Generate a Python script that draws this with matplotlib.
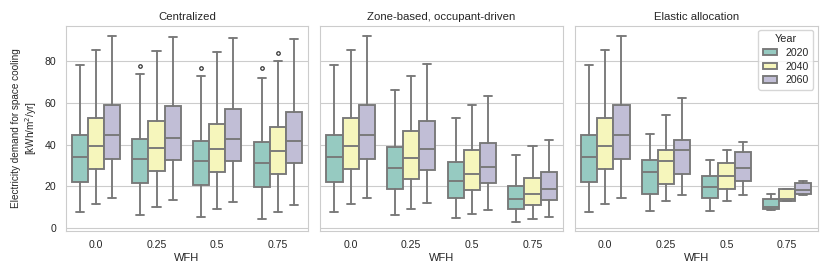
import matplotlib
matplotlib.use("Agg")
import matplotlib.pyplot as plt
from matplotlib.patches import Patch
import numpy as np
import seaborn as sns

wfh_levels = ["0.0", "0.25", "0.5", "0.75"]
years = ["2020", "2040", "2060"]
strategies = ["Centralized", "Zone-based, occupant-driven", "Elastic allocation"]

# (lower whisker, Q1, median, Q3, upper whisker) for each WFH level
centralized_2020 = [(7.5, 22.1, 34.0, 44.7, 78.1), (6.3, 21.3, 33.0, 42.8, 74.1),
                    (5.1, 20.5, 32.2, 41.7, 72.9), (4.0, 19.6, 31.3, 41.2, 72.0)]
centralized_2040 = [(11.2, 28.1, 39.4, 52.9, 85.5), (9.9, 27.4, 38.5, 51.3, 85.1),
                    (9.0, 26.8, 37.7, 49.7, 84.6), (7.5, 26.0, 36.9, 48.3, 80.2)]
centralized_2060 = [(14.4, 33.0, 44.4, 59.2, 92.0), (13.5, 32.5, 43.3, 58.4, 91.7),
                    (12.3, 32.1, 42.5, 57.1, 91.4), (11.1, 31.3, 41.7, 55.5, 90.7)]

zone_2020 = [(7.5, 22.1, 34.0, 44.7, 78.1), (6.1, 18.6, 28.7, 38.6, 66.2),
             (4.5, 14.3, 22.3, 31.4, 52.9), (2.6, 8.8, 13.6, 20.2, 34.8)]
zone_2040 = [(11.2, 28.1, 39.4, 52.9, 85.5), (9.1, 23.6, 33.3, 46.3, 72.8),
             (6.6, 18.1, 26.0, 37.4, 58.8), (4.0, 11.1, 16.2, 23.9, 39.1)]
zone_2060 = [(14.4, 33.0, 44.4, 59.2, 92.0), (11.7, 27.7, 37.7, 51.1, 78.9),
             (8.7, 21.3, 29.3, 40.7, 63.2), (5.1, 13.5, 18.6, 26.8, 42.2)]

elastic_2020 = [(7.5, 22.1, 34.0, 44.7, 78.1), (8.2, 16.0, 26.6, 32.5, 45.0),
                (8.2, 14.1, 19.6, 25.0, 32.5), (8.4, 9.1, 9.8, 13.9, 16.0)]
elastic_2040 = [(11.2, 28.1, 39.4, 52.9, 85.5), (12.7, 21.2, 31.9, 37.5, 54.2),
                (12.7, 18.8, 24.8, 31.1, 37.5), (12.7, 12.8, 13.6, 18.6, 18.6)]
elastic_2060 = [(14.4, 33.0, 44.4, 59.2, 92.0), (15.7, 25.8, 37.4, 42.2, 62.5),
                (15.7, 22.6, 28.7, 36.2, 41.4), (15.5, 16.0, 18.1, 21.6, 22.4)]

# outliers: (WFH index, year index) -> values
centralized_fliers = {(1, 0): [77.6], (2, 0): [77.0], (3, 0): [76.6], (3, 1): [84.2]}

panels = [
    (centralized_2020, centralized_2040, centralized_2060, centralized_fliers),
    (zone_2020, zone_2040, zone_2060, {}),
    (elastic_2020, elastic_2040, elastic_2060, {}),
]

sns.set_style("whitegrid")
plt.rcParams["font.family"] = ["Liberation Sans", "DejaVu Sans"]

colors = [sns.desaturate(c, 0.75) for c in sns.color_palette("Set3", 3)]
gray = (0.47, 0.47, 0.47)
lw = 1.35
box_w = 0.8 / 3

fig, axes = plt.subplots(1, 3, figsize=(8.3, 2.77), dpi=100, sharey=True)
plt.subplots_adjust(left=0.079, right=0.985, top=0.907, bottom=0.166, wspace=0.05)

for ax, title, panel in zip(axes, strategies, panels):
    series = panel[:3]
    fliers = panel[3]
    for j, vals in enumerate(series):
        stats = []
        for i, (lo, q1, med, q3, hi) in enumerate(vals):
            stats.append(dict(whislo=lo, q1=q1, med=med, q3=q3, whishi=hi,
                              fliers=fliers.get((i, j), [])))
        pos = np.arange(len(wfh_levels)) + (j - 1) * box_w
        ax.bxp(stats, positions=pos, widths=box_w, patch_artist=True,
               boxprops=dict(facecolor=colors[j], edgecolor=gray, linewidth=lw),
               medianprops=dict(color=gray, linewidth=lw),
               whiskerprops=dict(color=gray, linewidth=lw),
               capprops=dict(color=gray, linewidth=lw),
               flierprops=dict(marker="o", markersize=2.5, markerfacecolor="none",
                               markeredgecolor="#333333", markeredgewidth=0.9))
    ax.set_xticks(range(len(wfh_levels)))
    ax.set_xticklabels(wfh_levels)
    ax.set_xlim(-0.5, 3.5)
    ax.set_ylim(-1.6, 97.1)
    ax.set_yticks([0, 20, 40, 60, 80])
    ax.xaxis.grid(False)
    ax.set_title(title, fontsize=8.2, pad=4)
    ax.set_xlabel("WFH", fontsize=8, labelpad=2)
    ax.tick_params(labelsize=7.6, pad=3)

axes[0].set_ylabel("Electricity demand for space cooling\n[kWh/m$^2$/yr]", fontsize=7.2,
                   labelpad=4)

handles = [Patch(facecolor=colors[j], edgecolor=gray, linewidth=lw, label=y)
           for j, y in enumerate(years)]
axes[2].legend(handles=handles, title="Year", loc="upper right", fontsize=7.6,
               title_fontsize=7.8, frameon=True, handlelength=1.4, handleheight=0.55,
               labelspacing=0.35, borderaxespad=0.4)

fig.savefig("out.png", dpi=100)
